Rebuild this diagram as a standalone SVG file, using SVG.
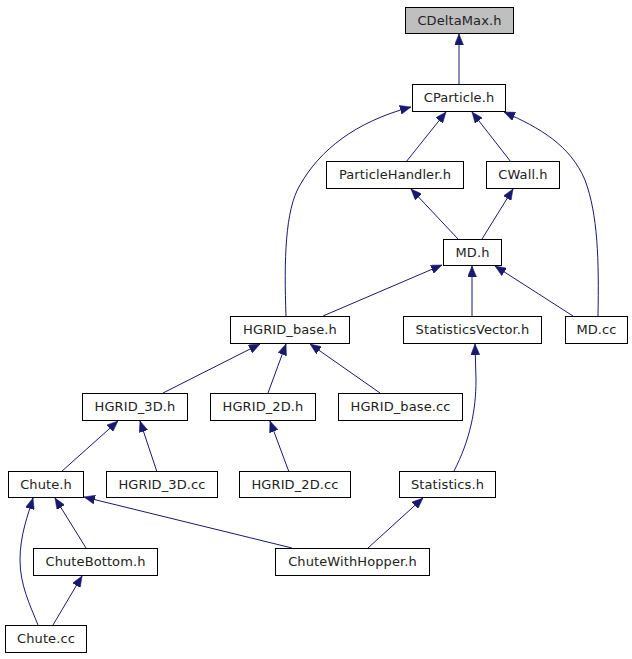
<svg xmlns="http://www.w3.org/2000/svg" width="632" height="659" viewBox="0 0 632 659">
<style>
.n rect{fill:#fff;stroke:#000;stroke-width:1}
.n text{font-family:"DejaVu Sans",sans-serif;font-size:13px;letter-spacing:0.1px;fill:#222;text-anchor:middle}
#edges path{fill:none;stroke:#191970;stroke-width:1;marker-end:url(#ah)}
</style>
<defs>
<marker id="ah" viewBox="0 0 11 9" refX="11" refY="4.5" markerWidth="11" markerHeight="9" markerUnits="userSpaceOnUse" orient="auto">
<path d="M0,0 L11,4.5 L0,9 z" fill="#191970" stroke="#191970" stroke-width="0.5"/>
</marker>
</defs>
<rect width="632" height="659" fill="#fff"/>
<g id="edges">
<path d="M459,84 L459,34"/>
<path d="M406,162 L446,112"/>
<path d="M511,162 L472,112"/>
<path d="M598,316 C599,260 598,215 585,180 C570,145 540,128 504,112"/>
<path d="M286,316 C284,260 285,210 300,185 C320,150 355,122 411,107"/>
<path d="M458,239 L411,189"/>
<path d="M482,239 L513,189"/>
<path d="M323,316 L442,265"/>
<path d="M472,316 L472,266"/>
<path d="M573,316 L495,266"/>
<path d="M163,393 L260,344"/>
<path d="M268,393 L286,344"/>
<path d="M380,393 L310,344"/>
<path d="M61,472 L118,421"/>
<path d="M157,472 L140,421"/>
<path d="M289,472 L270,421"/>
<path d="M454,471 C470,440 476,410 476,380 L475,344"/>
<path d="M86,548 L55,498"/>
<path d="M38,625 C30,605 20,585 20,560 C20,535 28,515 33,498"/>
<path d="M53,625 L82,576"/>
<path d="M292,548 L84,497"/>
<path d="M368,548 L423,498"/>
</g>
<g id="CDeltaMax" class="n"><rect x="405.5" y="7.5" width="108" height="26" style="fill:#bfbfbf"/><text x="459.5" y="25">CDeltaMax.h</text></g>
<g id="CParticle" class="n"><rect x="412.5" y="84.5" width="93" height="27"/><text x="459" y="102">CParticle.h</text></g>
<g id="ParticleHandler" class="n"><rect x="326.5" y="161.5" width="137" height="27"/><text x="395" y="179">ParticleHandler.h</text></g>
<g id="CWall" class="n"><rect x="486.5" y="161.5" width="73" height="27"/><text x="523" y="179">CWall.h</text></g>
<g id="MDh" class="n"><rect x="443.5" y="239.5" width="58" height="26"/><text x="472.5" y="257">MD.h</text></g>
<g id="HGRIDbase" class="n"><rect x="230.5" y="316.5" width="119" height="27"/><text x="290" y="334">HGRID_base.h</text></g>
<g id="StatisticsVector" class="n"><rect x="403.5" y="316.5" width="138" height="27"/><text x="472.5" y="334">StatisticsVector.h</text></g>
<g id="MDcc" class="n"><rect x="565.5" y="316.5" width="62" height="27"/><text x="596.5" y="334">MD.cc</text></g>
<g id="HGRID3D" class="n"><rect x="82.5" y="393.5" width="105" height="27"/><text x="135" y="411">HGRID_3D.h</text></g>
<g id="HGRID2D" class="n"><rect x="210.5" y="393.5" width="105" height="27"/><text x="263" y="411">HGRID_2D.h</text></g>
<g id="HGRIDbasecc" class="n"><rect x="338.5" y="393.5" width="124" height="27"/><text x="400.5" y="411">HGRID_base.cc</text></g>
<g id="Chuteh" class="n"><rect x="8.5" y="471.5" width="75" height="26"/><text x="46" y="489">Chute.h</text></g>
<g id="HGRID3Dcc" class="n"><rect x="106.5" y="471.5" width="111" height="26"/><text x="162" y="489">HGRID_3D.cc</text></g>
<g id="HGRID2Dcc" class="n"><rect x="239.5" y="471.5" width="111" height="26"/><text x="295" y="489">HGRID_2D.cc</text></g>
<g id="Statistics" class="n"><rect x="399.5" y="471.5" width="96" height="26"/><text x="447.5" y="489">Statistics.h</text></g>
<g id="ChuteBottom" class="n"><rect x="33.5" y="548.5" width="124" height="27"/><text x="95.5" y="566">ChuteBottom.h</text></g>
<g id="ChuteWithHopper" class="n"><rect x="275.5" y="548.5" width="154" height="27"/><text x="352.5" y="566">ChuteWithHopper.h</text></g>
<g id="Chutecc" class="n"><rect x="5.5" y="625.5" width="81" height="27"/><text x="46" y="643">Chute.cc</text></g>
</svg>
